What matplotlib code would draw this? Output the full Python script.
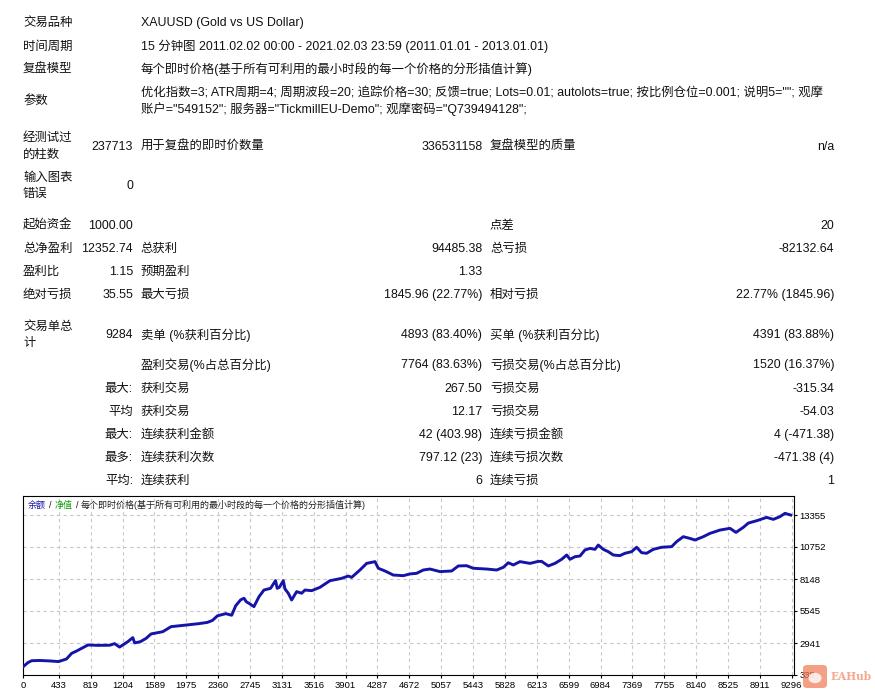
import matplotlib
matplotlib.use('Agg')
import matplotlib.pyplot as plt
from matplotlib.patches import FancyBboxPatch, Circle

W, H = 875, 693
FONT = ['Liberation Sans', 'Noto Sans CJK SC']
TXT = '#111111'

# report header
info_labels = ['交易品种', '时间周期', '复盘模型']
info_values = ['XAUUSD (Gold vs US Dollar)',
               '15 分钟图 2011.02.02 00:00 - 2021.02.03 23:59 (2011.01.01 - 2013.01.01)',
               '每个即时价格(基于所有可利用的最小时段的每一个价格的分形插值计算)']
param_label = '参数'
param_lines = ['优化指数=3; ATR周期=4; 周期波段=20; 追踪价格=30; 反馈=true; Lots=0.01; autolots=true; 按比例仓位=0.001; 说明5=""; 观摩',
               '账户="549152"; 服务器="TickmillEU-Demo"; 观摩密码="Q739494128";']

# stats rows: label, value, label, value, label, value
stat_rows = [
    ('经测试过\n的柱数', '237713', '用于复盘的即时价数量', '336531158', '复盘模型的质量', 'n/a'),
    ('输入图表\n错误', '0', '', '', '', ''),
    ('起始资金', '1000.00', '', '', '点差', '20'),
    ('总净盈利', '12352.74', '总获利', '94485.38', '总亏损', '-82132.64'),
    ('盈利比', '1.15', '预期盈利', '1.33', '', ''),
    ('绝对亏损', '35.55', '最大亏损', '1845.96 (22.77%)', '相对亏损', '22.77% (1845.96)'),
    ('交易单总\n计', '9284', '卖单 (%获利百分比)', '4893 (83.40%)', '买单 (%获利百分比)', '4391 (83.88%)'),
    ('', '', '盈利交易(%占总百分比)', '7764 (83.63%)', '亏损交易(%占总百分比)', '1520 (16.37%)'),
    ('', '最大:', '获利交易', '267.50', '亏损交易', '-315.34'),
    ('', '平均', '获利交易', '12.17', '亏损交易', '-54.03'),
    ('', '最大:', '连续获利金额', '42 (403.98)', '连续亏损金额', '4 (-471.38)'),
    ('', '最多:', '连续获利次数', '797.12 (23)', '连续亏损次数', '-471.38 (4)'),
    ('', '平均:', '连续获利', '6', '连续亏损', '1'),
]

# balance curve (trade number vs balance)
trade_no = [0, 60, 105, 200, 330, 430, 526, 588, 648, 786, 900, 1048, 1108, 1168,
            1268, 1328, 1350, 1420, 1489, 1549, 1690, 1790, 1970, 2131, 2231, 2291,
            2351, 2452, 2524, 2572, 2633, 2673, 2700, 2733, 2793, 2854, 2914, 2994,
            3054, 3074, 3100, 3148, 3168, 3208, 3249, 3309, 3370, 3410, 3491, 3591,
            3712, 3853, 3934, 3974, 4075, 4156, 4257, 4297, 4378, 4478, 4599, 4680,
            4760, 4841, 4921, 5043, 5184, 5264, 5365, 5446, 5607, 5728, 5809, 5869,
            5929, 6010, 6131, 6231, 6272, 6353, 6433, 6514, 6575, 6615, 6675, 6736,
            6796, 6857, 6917, 6957, 7018, 7078, 7139, 7219, 7280, 7360, 7421, 7481,
            7542, 7622, 7723, 7844, 7905, 7985, 8066, 8127, 8227, 8308, 8429, 8550,
            8622, 8711, 8772, 8873, 8993, 9074, 9154, 9215, 9284]
balance = [1000, 1350, 1500, 1520, 1480, 1430, 1640, 2100, 2290, 2780, 2750, 2760, 2890, 2610,
           3050, 3380, 2950, 3050, 3320, 3680, 3860, 4270, 4400, 4520, 4620, 4780,
           5150, 5330, 5200, 5970, 6460, 6580, 6300, 6170, 5900, 6710, 7250, 7390,
           8020, 7390, 7470, 8010, 7340, 6990, 6440, 7120, 6990, 7250, 7200, 7470,
           8010, 8200, 8390, 8280, 8880, 9420, 9560, 9020, 8800, 8470, 8420, 8560,
           8610, 8880, 8960, 8750, 8800, 9210, 9230, 9020, 8960, 8880, 9100, 9470,
           9290, 9560, 9420, 9580, 9580, 9210, 9420, 9750, 10100, 9750, 9960, 10020,
           10510, 10640, 10560, 10910, 10560, 10370, 10100, 10050, 10240, 10370, 10730, 10290,
           10240, 10560, 10730, 10780, 11190, 11590, 11450, 11320, 11590, 11860, 12130, 12270,
           11940, 12350, 12700, 12890, 13160, 13000, 13220, 13490, 13353]

x_ticks = [0, 433, 819, 1204, 1589, 1975, 2360, 2745, 3131, 3516, 3901, 4287, 4672,
           5057, 5443, 5828, 6213, 6599, 6984, 7369, 7755, 8140, 8525, 8911, 9296]
y_ticks = [338, 2941, 5545, 8148, 10752, 13355]

legend_parts = ['余额', '/', '净值', '/', '每个即时价格(基于所有可利用的最小时段的每一个价格的分形插值计算)']
legend_colors = ['#1a1aa0', '#111111', '#10a010', '#111111', '#222222']

fig = plt.figure(figsize=(W / 100, H / 100), dpi=100)
fig.patch.set_facecolor('white')


def put(x, y, s, ha='left', size=8.9, color=TXT, **kw):
    fig.text(x / W, 1 - y / H, s, ha=ha, va='center', family=FONT,
             fontsize=size, color=color, **kw)


def put_lines(x, y, s, ha='left', step=16.3):
    lines = s.split('\n')
    y0 = y - step * (len(lines) - 1) / 2
    for i, line in enumerate(lines):
        put(x, y0 + i * step, line, ha)


# header block
for lab, val, y in zip(info_labels, info_values, [23, 46.5, 69.5]):
    put(23, y, lab)
    put(140.7, y, val)
put(23, 101, param_label)
for line, y in zip(param_lines, [93, 109]):
    put(140.7, y, line)

# stats table
row_y = [146.5, 186, 225.7, 249, 272, 295, 335, 365, 389, 411.7, 435, 458, 481]
col_x = [23, 133, 140.7, 482.3, 490, 834.3]
col_ha = ['left', 'right', 'left', 'right', 'left', 'right']
for row, y in zip(stat_rows, row_y):
    for cell, x, ha in zip(row, col_x, col_ha):
        if cell:
            put_lines(x, y, cell, ha)

# balance chart
ax = fig.add_axes([23 / W, 1 - 675 / H, (794 - 23) / W, (675 - 496) / H])
ax.plot(trade_no, balance, color='#1414a8', lw=2.1, zorder=3)
ax.set_xlim(0, 9324)
ax.set_ylim(338, 14901)
ax.set_xticks(x_ticks)
ax.set_yticks(y_ticks)
ax.yaxis.tick_right()
ax.tick_params(axis='both', direction='out', length=2.5, width=0.8,
               labelsize=6.8, pad=1.5, colors='black')
for lab in ax.get_xticklabels() + ax.get_yticklabels():
    lab.set_family(FONT)
ax.grid(True, linestyle=(0, (3, 3)), color='#c8c8c8', linewidth=0.8, zorder=1)
for sp in ax.spines.values():
    sp.set_linewidth(0.8)
    sp.set_color('black')

legend_x = [27.3, 49.3, 55, 76, 80.7]
for s, c, x in zip(legend_parts, legend_colors, legend_x):
    put(x, 505, s, size=6.5, color=c)

# watermark
box = FancyBboxPatch((803 / W, 1 - 688 / H), 24 / W, 23 / H,
                     boxstyle='round,pad=0,rounding_size=0.005',
                     transform=fig.transFigure, facecolor='#f07850',
                     edgecolor='none', alpha=0.7, zorder=10)
fig.add_artist(box)
fig.add_artist(Circle((815 / W, 1 - 678 / H), 0.0075, transform=fig.transFigure,
                      facecolor='white', edgecolor='none', alpha=0.8, zorder=11))
fig.text(830 / W, 1 - 677 / H, 'EAHub', ha='left', va='center', family='DejaVu Serif',
         fontweight='bold', fontsize=7.6, color='#f07850', alpha=0.65, zorder=10)

fig.savefig('out.png', dpi=100)
